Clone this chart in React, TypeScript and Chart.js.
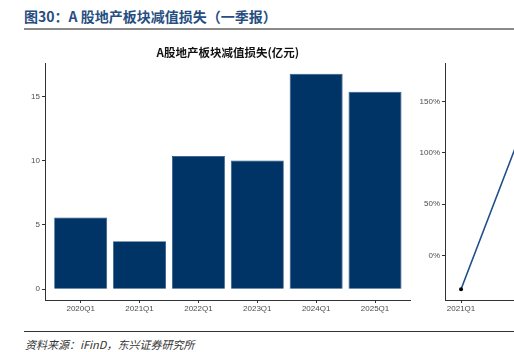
import React, { useEffect, useRef } from "react";
import { Chart, registerables } from "chart.js";

Chart.register(...registerables);

const PAGE_TITLE = "图30：A 股地产板块减值损失（一季报）";
const CHART_TITLE = "A股地产板块减值损失(亿元)";
const SOURCE_TEXT = "资料来源：iFinD，东兴证券研究所";

const categories = ["2020Q1", "2021Q1", "2022Q1", "2023Q1", "2024Q1", "2025Q1"];
const lossValues = [5.58, 3.74, 10.37, 10.01, 16.76, 15.36];
const lossTicks = [0, 5, 10, 15];

const growthCategories = ["2021Q1", "2022Q1", "2023Q1", "2024Q1", "2025Q1"];
const growthValues = [-33, 177, -3.5, 67, -8];
const growthTicks = [0, 50, 100, 150];

const AXIS_FONT = { family: '"Liberation Sans", Arial, sans-serif', size: 8 };
const TICK_COLOR = "#4d4d4d";
const AXIS_COLOR = "#333333";

const titlePlugin = {
  id: "centerTitle",
  afterDraw(chart: any) {
    const { ctx, chartArea } = chart;
    ctx.save();
    ctx.font = 'bold 11.5px "Noto Sans CJK SC", "Liberation Sans", sans-serif';
    ctx.fillStyle = "#111111";
    ctx.textAlign = "center";
    ctx.textBaseline = "middle";
    ctx.fillText(CHART_TITLE, (chartArea.left + chartArea.right) / 2, 13);
    ctx.restore();
  },
};

function axisCommon() {
  return {
    offset: false,
    grid: {
      offset: false,
      drawOnChartArea: false,
      drawTicks: true,
      tickLength: 3,
      tickWidth: 1,
      tickColor: AXIS_COLOR,
    },
    border: { display: true, color: AXIS_COLOR, width: 1 },
  };
}

function BarChart() {
  const ref = useRef<HTMLCanvasElement>(null);
  useEffect(() => {
    if (!ref.current) return;
    const chart = new Chart(ref.current, {
      type: "bar",
      data: {
        datasets: [
          {
            data: lossValues.map((v, i) => ({ x: i, y: v })),
            backgroundColor: "#003366",
            borderColor: "#24507e",
            borderWidth: 0.8,
            barPercentage: 0.9,
            categoryPercentage: 1,
          },
        ],
      },
      options: {
        responsive: false,
        animation: false,
        layout: { padding: { top: 23, right: 45.3, bottom: 0, left: 0 } },
        plugins: { legend: { display: false }, title: { display: false }, tooltip: { enabled: false } },
        scales: {
          x: {
            type: "linear",
            min: -0.606,
            max: categories.length - 1 + 0.606,
            ...axisCommon(),
            afterBuildTicks: (s: any) => {
              s.ticks = categories.map((_, i) => ({ value: i }));
            },
            afterFit: (s: any) => {
              s.height = 20;
            },
            ticks: {
              autoSkip: false,
              maxRotation: 0,
              padding: 1,
              font: AXIS_FONT,
              color: TICK_COLOR,
              callback: (v: any) => categories[Math.round(Number(v))] ?? "",
            },
          },
          y: {
            type: "linear",
            min: -0.838,
            max: 17.598,
            ...axisCommon(),
            afterBuildTicks: (s: any) => {
              s.ticks = lossTicks.map((v) => ({ value: v }));
            },
            afterFit: (s: any) => {
              s.width = 45;
            },
            ticks: {
              padding: 2,
              font: AXIS_FONT,
              color: TICK_COLOR,
            },
          },
        },
      },
      plugins: [titlePlugin],
    } as any);
    return () => chart.destroy();
  }, []);
  return (
    <canvas
      ref={ref}
      width={456}
      height={280}
      style={{ position: "absolute", left: 0, top: 40, width: 456, height: 280 }}
    />
  );
}

function LineChart() {
  const ref = useRef<HTMLCanvasElement>(null);
  useEffect(() => {
    if (!ref.current) return;
    const chart = new Chart(ref.current, {
      type: "line",
      data: {
        datasets: [
          {
            data: growthValues.map((v, i) => ({ x: i, y: v })),
            borderColor: "#1f4e8a",
            borderWidth: 1.6,
            pointRadius: 2,
            pointBackgroundColor: "#000000",
            pointBorderWidth: 0,
            tension: 0,
          },
        ],
      },
      options: {
        responsive: false,
        animation: false,
        layout: { padding: { top: 23, right: 9, bottom: 0, left: 0 } },
        plugins: { legend: { display: false }, title: { display: false }, tooltip: { enabled: false } },
        scales: {
          x: {
            type: "linear",
            min: -0.194,
            max: 1.5,
            ...axisCommon(),
            afterBuildTicks: (s: any) => {
              s.ticks = growthCategories.map((_, i) => ({ value: i })).filter((t) => t.value <= 1.5);
            },
            afterFit: (s: any) => {
              s.height = 20;
            },
            ticks: {
              autoSkip: false,
              maxRotation: 0,
              padding: 1,
              font: AXIS_FONT,
              color: TICK_COLOR,
              callback: (v: any) => growthCategories[Math.round(Number(v))] ?? "",
            },
          },
          y: {
            type: "linear",
            min: -43.5,
            max: 187.5,
            ...axisCommon(),
            afterBuildTicks: (s: any) => {
              s.ticks = growthTicks.map((v) => ({ value: v }));
            },
            afterFit: (s: any) => {
              s.width = 31;
            },
            ticks: {
              padding: 2,
              font: AXIS_FONT,
              color: TICK_COLOR,
              callback: (v: any) => `${v}%`,
            },
          },
        },
      },
    } as any);
    return () => chart.destroy();
  }, []);
  return (
    <canvas
      ref={ref}
      width={180}
      height={280}
      style={{ position: "absolute", left: 414, top: 40, width: 180, height: 280 }}
    />
  );
}

export default function App() {
  return (
    <div
      style={{
        position: "fixed",
        left: 0,
        top: 0,
        width: 514,
        height: 352,
        overflow: "hidden",
        background: "#ffffff",
      }}
    >
      <div
        style={{
          position: "absolute",
          left: 24,
          top: 7,
          fontFamily: '"Noto Sans CJK SC", "Liberation Sans", sans-serif',
          fontWeight: "bold",
          fontSize: 14,
          lineHeight: "18px",
          color: "#264e80",
          whiteSpace: "nowrap",
        }}
      >
        {PAGE_TITLE}
      </div>
      <div
        style={{
          position: "absolute",
          left: 24,
          top: 28,
          width: 490,
          height: 2,
          background: "#8a8a8a",
        }}
      />
      <BarChart />
      <LineChart />
      <div
        style={{
          position: "absolute",
          left: 24,
          top: 331,
          width: 490,
          height: 1,
          background: "#333333",
        }}
      />
      <div
        style={{
          position: "absolute",
          left: 25,
          top: 337,
          fontFamily: '"Noto Sans CJK SC", "Liberation Sans", sans-serif',
          fontStyle: "italic",
          fontSize: 11,
          lineHeight: "15px",
          color: "#333333",
          whiteSpace: "nowrap",
        }}
      >
        {SOURCE_TEXT}
      </div>
    </div>
  );
}
